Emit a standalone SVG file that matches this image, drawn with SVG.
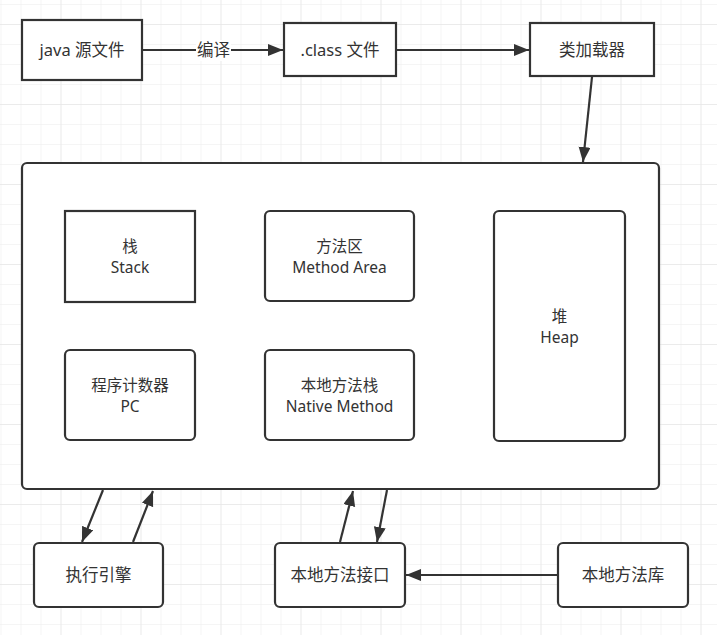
<svg xmlns="http://www.w3.org/2000/svg" width="717" height="635" viewBox="0 0 717 635">
  <style>
    .box { fill: #ffffff; stroke: #333333; stroke-width: 2.2; }
    .lbl { font-family: "Noto Sans", "Noto Sans CJK SC", sans-serif; font-size: 16.5px; fill: #333333; text-anchor: middle; }
    .lbl2 { font-family: "Noto Sans", "Noto Sans CJK SC", sans-serif; font-size: 15.5px; fill: #333333; text-anchor: middle; }
    .edge { stroke: #333333; stroke-width: 2.2; fill: none; marker-end: url(#arrow); }
  </style>
  <defs>
    <pattern id="minor" x="0.5" y="4" width="20" height="20" patternUnits="userSpaceOnUse">
      <path d="M0,0 H20 M0,0 V20" stroke="#ececec" stroke-width="1" fill="none"/>
    </pattern>
    <pattern id="major" x="60.5" y="24" width="80" height="80" patternUnits="userSpaceOnUse">
      <path d="M0,0 H80 M0,0 V80" stroke="#e2e2e2" stroke-width="1" fill="none"/>
    </pattern>
    <marker id="arrow" markerUnits="userSpaceOnUse" markerWidth="16" markerHeight="13" refX="15" refY="6" orient="auto">
      <path d="M0,0 L15,6 L0,12 z" fill="#333333"/>
    </marker>
  </defs>
  <rect width="717" height="635" fill="#ffffff"/>
  <rect width="717" height="635" fill="url(#minor)"/>
  <rect width="717" height="635" fill="url(#major)"/>

  <g id="connectors">
    <line class="edge" x1="142" y1="50" x2="283" y2="50"/>
    <line class="edge" x1="396" y1="50" x2="529" y2="50"/>
    <line class="edge" x1="592" y1="77" x2="583" y2="162"/>
    <line class="edge" x1="103" y1="490" x2="82" y2="542"/>
    <line class="edge" x1="133" y1="542" x2="153" y2="491"/>
    <line class="edge" x1="340" y1="542" x2="353" y2="491"/>
    <line class="edge" x1="387" y1="490" x2="377" y2="542"/>
    <line class="edge" x1="557" y1="575" x2="406" y2="575"/>
    <rect x="196" y="40" width="35" height="21" fill="#ffffff"/>
    <text class="lbl" x="213.5" y="56">编译</text>
  </g>

  <g id="java-source">
    <rect class="box" x="22" y="20" width="120" height="60"/>
    <text class="lbl" x="82" y="56">java 源文件</text>
  </g>
  <g id="class-file">
    <rect class="box" x="284" y="23" width="112" height="53"/>
    <text class="lbl" x="340" y="56">.class 文件</text>
  </g>
  <g id="class-loader">
    <rect class="box" x="530" y="23" width="124" height="53"/>
    <text class="lbl" x="592" y="56">类加载器</text>
  </g>

  <g id="runtime-area">
    <rect class="box" x="22" y="163" width="637" height="326" rx="5" ry="5"/>
  </g>
  <g id="stack">
    <rect class="box" x="65" y="211" width="130" height="91"/>
    <text class="lbl2" x="130" y="251.5">栈</text>
    <text class="lbl2" x="130" y="273">Stack</text>
  </g>
  <g id="method-area">
    <rect class="box" x="265" y="211" width="149" height="90" rx="5" ry="5"/>
    <text class="lbl2" x="339.5" y="251.5">方法区</text>
    <text class="lbl2" x="339.5" y="273">Method Area</text>
  </g>
  <g id="heap">
    <rect class="box" x="494" y="211" width="131" height="230" rx="5" ry="5"/>
    <text class="lbl2" x="559.5" y="321.5">堆</text>
    <text class="lbl2" x="559.5" y="343">Heap</text>
  </g>
  <g id="pc">
    <rect class="box" x="65" y="350" width="130" height="90" rx="5" ry="5"/>
    <text class="lbl2" x="130" y="390.5">程序计数器</text>
    <text class="lbl2" x="130" y="412">PC</text>
  </g>
  <g id="native-stack">
    <rect class="box" x="265" y="350" width="149" height="90" rx="5" ry="5"/>
    <text class="lbl2" x="339.5" y="390.5">本地方法栈</text>
    <text class="lbl2" x="339.5" y="412">Native Method</text>
  </g>

  <g id="exec-engine">
    <rect class="box" x="34" y="543" width="129" height="64" rx="5" ry="5"/>
    <text class="lbl" x="98.5" y="581">执行引擎</text>
  </g>
  <g id="native-interface">
    <rect class="box" x="275" y="543" width="130" height="64" rx="5" ry="5"/>
    <text class="lbl" x="340" y="581">本地方法接口</text>
  </g>
  <g id="native-library">
    <rect class="box" x="558" y="543" width="130" height="64" rx="5" ry="5"/>
    <text class="lbl" x="623" y="581">本地方法库</text>
  </g>
</svg>
